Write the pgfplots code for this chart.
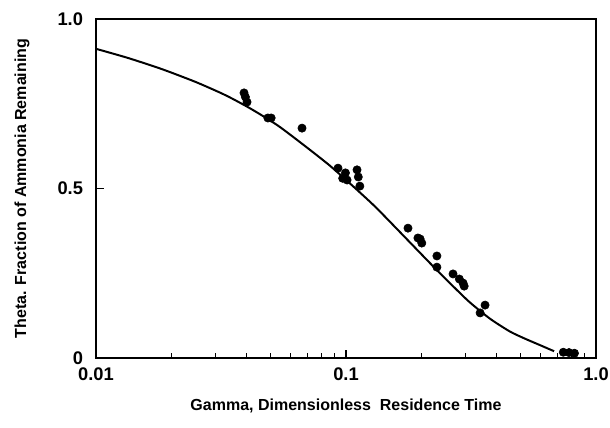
\documentclass[border=0pt]{standalone}
\usepackage{fontspec}
\setmainfont{Liberation Sans}
\usepackage{pgfplots}
\pgfplotsset{compat=1.18}
\begin{document}
\begin{tikzpicture}[x=1pt,y=1pt]
\def\u{0.656}
\begin{axis}[
  scale only axis,
  width=328pt, height=222.4pt,
  at={(0,0)}, anchor=south west,
  xmode=log,
  xmin=0.01, xmax=1, ymin=0, ymax=1,
  xtick={0.01,0.1,1}, xticklabels={0.01,0.1,1.0},
  ytick={0,0.5,1}, yticklabels={0,0.5,1.0},
  minor ytick={},
  tick align=inside,
  xtick pos=bottom, ytick pos=left,
  major tick length=5pt, minor tick length=3pt,
  every tick/.style={black, line width=0.8pt},
  axis line style={line width=1.5pt},
  /pgf/number format/assume math mode=true,
  ticklabel style={font=\bfseries\large},
  xticklabel style={yshift=-3pt},
  yticklabel style={xshift=-5pt},
  every axis x label/.style={at={(axis description cs:0.5,-0.142)},anchor=center,font=\bfseries\fontsize{10.5}{12}\selectfont},
  every axis y label/.style={at={(axis description cs:-0.148,0.5)},rotate=90,anchor=center,font=\bfseries\fontsize{10.5}{12}\selectfont},
  xlabel={Gamma, Dimensionless\ \ Residence Time},
  ylabel={Theta. Fraction of Ammonia Remaining},
  clip=false,
]
\addplot[black, line width=1.3pt, smooth, tension=0.4] table {
x y
0.01 0.912
0.01343 0.885
0.01837 0.852
0.02489 0.815
0.0313 0.783
0.0353 0.764
0.0421 0.733
0.0545 0.681
0.0847 0.572
0.1169 0.480
0.1368 0.432
0.2128 0.286
0.2377 0.250
0.3076 0.169
0.3767 0.116
0.4529 0.078
0.52 0.057
0.597 0.038
0.68 0.020
};
\addplot[only marks, mark=*, mark size=2.7pt, black] table {
x y
0.0391 0.782
0.0396 0.770
0.0402 0.755
0.0487 0.708
0.0502 0.708
0.0667 0.678
0.0929 0.560
0.0995 0.546
0.101 0.525
0.097 0.530
0.1107 0.555
0.112 0.534
0.1136 0.507
0.177 0.383
0.194 0.354
0.198 0.351
0.201 0.339
0.231 0.301
0.231 0.268
0.268 0.248
0.284 0.233
0.294 0.221
0.297 0.212
0.360 0.156
0.344 0.133
0.74 0.017
0.78 0.016
0.82 0.014
};
\end{axis}
\pgfresetboundingbox
\useasboundingbox (-96*\u,-69*\u) rectangle (514*\u,358*\u);
\end{tikzpicture}
\end{document}
